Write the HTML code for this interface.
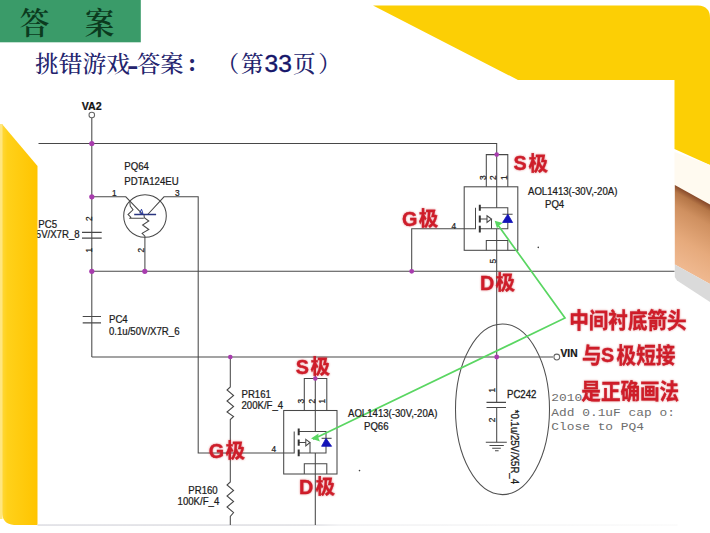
<!DOCTYPE html>
<html lang="zh">
<head>
<meta charset="utf-8">
<title>答案</title>
<style>
html,body{margin:0;padding:0;background:#fff;}
body{width:710px;height:533px;overflow:hidden;position:relative;}
svg{position:absolute;left:0;top:0;display:block;}
.sans{font-family:"Liberation Sans","Noto Sans CJK SC",sans-serif;}
.serif{font-family:"Liberation Serif","Noto Serif CJK SC",serif;}
.mono{font-family:"Liberation Mono",monospace;}
.lbl{font-family:"Liberation Sans","Noto Sans CJK SC",sans-serif;font-size:10.4px;fill:#1c1c1c;stroke:#1c1c1c;stroke-width:0.25;}
.red{font-family:"Liberation Sans","Noto Sans CJK SC",sans-serif;font-weight:700;fill:#d01f2a;stroke:#c01822;stroke-width:0.3;}
.w{stroke:#484848;stroke-width:1.05;fill:none;}
.j{fill:#a83cae;}
</style>
</head>
<body>
<svg width="710" height="533" viewBox="0 0 710 533">
<defs>
<linearGradient id="gy" x1="0" y1="0" x2="1" y2="0">
<stop offset="0" stop-color="#ffd83a"/><stop offset="0.15" stop-color="#ffd11a"/><stop offset="1" stop-color="#ffc400"/>
</linearGradient>
<linearGradient id="gw" gradientUnits="userSpaceOnUse" x1="692" y1="195" x2="652" y2="265">
<stop offset="0" stop-color="#8a4c2c"/><stop offset="0.07" stop-color="#b57647"/><stop offset="0.22" stop-color="#cf9060"/><stop offset="0.55" stop-color="#e6aa7c"/><stop offset="1" stop-color="#f4c09a"/>
</linearGradient>
<linearGradient id="gb" x1="0" y1="0" x2="1" y2="0"><stop offset="0" stop-color="#dcdce2"/><stop offset="0.43" stop-color="#dedee2"/><stop offset="0.47" stop-color="#f0f0f2"/><stop offset="1" stop-color="#fafafa"/></linearGradient>
<filter id="soft" x="-5%" y="-5%" width="110%" height="110%"><feGaussianBlur stdDeviation="0.35"/></filter>
<filter id="glow" x="-10%" y="-20%" width="120%" height="140%">
<feGaussianBlur in="SourceGraphic" stdDeviation="1.0" result="b"/>
<feComponentTransfer in="b" result="b2"><feFuncA type="linear" slope="0.45"/></feComponentTransfer>
<feMerge><feMergeNode in="b2"/><feMergeNode in="SourceGraphic"/></feMerge>
</filter>
<clipPath id="content"><rect x="37.5" y="80" width="637" height="445"/></clipPath>
</defs>
<rect width="710" height="533" fill="#fff"/>

<!-- top-right yellow shape -->
<path d="M373 5.5 L698 5.5 Q710 6 710 18 L710 165 L674.5 149 L674.5 80 L518 80 Z" fill="#fccf05"/>
<!-- pencil-like band on right -->
<path d="M674.5 152 L710 165 L710 205 L674.5 185 Z" fill="#fffaf0"/>
<path d="M674.8 185 L710 204.5 L710 284 L674.8 264.6 Z" fill="url(#gw)"/>
<path d="M674.8 264.6 L710 284 L710 302 L677 280.5 L674.8 277 Z" fill="#dadada"/>

<!-- left yellow shape -->
<path d="M2 124 L37.5 166 L37.5 525 L14 525 Q2 524 2 512 Z" fill="url(#gy)"/>
<rect x="0" y="124" width="2.5" height="395" fill="#ffe680"/>
<rect x="37.5" y="524.3" width="640" height="1.5" fill="url(#gb)"/>

<!-- header -->
<rect x="0" y="0" width="140.8" height="42.3" fill="#3a9b69"/>
<g class="serif" font-size="29.5" font-weight="600" fill="#0b3a1e">
<text transform="translate(19.8 34.2) scale(1 1.04)">答</text>
<text transform="translate(84.8 34.2) scale(1 1.04)">案</text>
</g>
<g class="serif" font-size="22.6" font-weight="500" fill="#24246e">
<text transform="translate(35 71.8) scale(1.05 1)">挑错游戏</text>
<text class="sans" transform="translate(127 72.8) scale(1.5 1)" font-weight="bold" font-size="23">-</text>
<text transform="translate(137 71.8) scale(1.03 1)">答案</text>
<text x="188" y="70.8" font-weight="700" font-size="25">:</text>
<text x="216.5" y="71.8">（</text>
<text x="241" y="71.8">第</text>
<text class="sans" x="264.6" y="72" font-size="24.6" font-weight="400" fill="#16166a" stroke="#16166a" stroke-width="0.4">33</text>
<text x="293" y="71.8">页</text>
<text x="318.3" y="71.8">）</text>
</g>

<g clip-path="url(#content)">
<!-- ================= schematic wires ================= -->
<g class="w">
<!-- VA2 -->
<circle cx="91.8" cy="115" r="2.8" stroke="#666"/>
<path d="M91.8 118 V357"/>
<path d="M38.5 143.5 H496.7 V207.8"/>
<path d="M496.7 228.8 V402.3"/>
<path d="M91.8 196.8 H125.8 L142 213.6"/>
<path d="M147.7 214.5 L164 196.8 H198.2 V452.9 H294.2 V431.5"/>
<circle cx="145" cy="216" r="21.3"/>
<!-- transistor resistors -->
<path d="M129.7 201.3 L130.3 206 L133 209.8 L128 214.5 L130.8 217.2 L130 218.2 H143.8"/>
<path d="M144 214.5 L144.3 217.6 L148.8 221 L142.6 225 L148.8 229.5 L142.1 233.4 L144.9 236.2 V271.3"/>
<!-- PC5 cap -->
<path d="M82 232.3 H101.7 M82 238.2 H101.7" stroke-width="1.2"/>
<!-- PC4 cap -->
<path d="M82.7 316.5 H101 M82.7 322.9 H101" stroke-width="1.2"/>
<!-- rails -->
<path d="M91.8 271.3 H675"/>
<path d="M91.8 357 H553"/>
<circle cx="556.8" cy="357" r="2.9" stroke="#666"/>
<!-- gate PQ4 -->
<path d="M411.7 271.3 V228.8 H475.5 V207.8"/>
<!-- PQ4 body -->
<rect x="464.2" y="186.8" width="53.6" height="63.5"/>
<path d="M486.3 186.8 V154.6 H507.8 V186.8"/>
<path d="M486.3 250.3 V240.5 H507.8 V250.3"/>
<path d="M479.8 207.8 H507.8 V228.8 H479.8"/>
<path d="M479.8 219 H487 M491.5 219 V228.8"/>
<path d="M487 215.8 L491.5 219 L487 222.4 Z"/>
<path d="M502.5 214.2 H512.6"/>
<!-- PQ66 body -->
<rect x="283.7" y="410.5" width="53.3" height="63.5"/>
<path d="M304.3 410.5 V378.5 H326.8 V410.5"/>
<path d="M304.3 474 V463.8 H326.8 V474"/>
<path d="M315.3 357 V431.5 M315.3 452.9 V525"/>
<path d="M298.7 431.5 H326 V452.9 H298.7"/>
<path d="M298.7 442.5 H305.8 M310 442.5 V452.9"/>
<path d="M305.8 439.3 L310 442.5 L305.8 445.8 Z"/>
<path d="M321.6 438.3 H331.6"/>
<!-- resistors -->
<path d="M230.3 357 V387 L227 390 L233.6 395.5 L227 401 L233.6 406.5 L227 412 L233.6 416.5 L230.3 419.5 V482 L227 485 L233.6 490.5 L227 496 L233.6 501.5 L227 507 L233.6 512.5 L230.3 516.5 V525"/>
<!-- PC242 -->
<path d="M496.7 407.5 V442.3"/>
<path d="M486.5 402.3 H506 M486.5 407.5 H506" stroke-width="1.2"/>
<path d="M485.8 442.3 H506.8 M489.5 445.4 H503.8 M492.2 448.2 H500.8 M495 450.8 H498.6"/>
<ellipse cx="502.5" cy="409.3" rx="47" ry="85.3" stroke="#505050"/>
</g>
<!-- base bar of BJT -->
<path d="M134.2 214.5 H156.1" stroke="#2a3580" stroke-width="1.5" fill="none"/>
<path d="M139.8 213.1 L141.5 209.2 L143 213.7 Z" fill="none" stroke="#2a3ca0" stroke-width="1"/>
<!-- channel thick segments -->
<g stroke="#333" stroke-width="2" fill="none">
<path d="M479.8 204.8 V210.8 M479.8 215.6 V222.5 M479.8 225.8 V232.6"/>
<path d="M298.7 428.5 V435.3 M298.7 439.4 V445.8 M298.7 449.6 V456.3"/>
</g>
<!-- diodes -->
<path d="M507.8 214.2 L512.6 222.5 H502.5 Z" fill="#1414b8" stroke="#1414b8" stroke-width="0.8"/>
<path d="M326 438.3 L331.6 446.3 H321.6 Z" fill="#1414b8" stroke="#1414b8" stroke-width="0.8"/>

<!-- junction dots -->
<g class="j">
<circle cx="91.8" cy="143.5" r="2.6"/><circle cx="91.8" cy="196.8" r="2.6"/>
<circle cx="91.8" cy="271.3" r="2.6"/><circle cx="144.8" cy="271.3" r="2.6"/>
<circle cx="230.3" cy="357" r="2.3"/><circle cx="315.3" cy="378.5" r="2.3"/>
<circle cx="496.7" cy="154.6" r="2.3"/><circle cx="411.7" cy="271.3" r="2.4"/>
<circle cx="496.7" cy="357" r="2.4"/>
</g>

<!-- green pointer lines -->
<g stroke="#5ad662" stroke-width="1.7" fill="none">
<path d="M496.5 223 L565 318 L313 439.3"/>
</g>
<path d="M494.7 220.7 L502.8 223 L499 225.5 L497 228.5 Z" fill="#5ad662"/>
<path d="M311 438.5 L318.5 433.6 L318.2 437.4 L320 441.5 Z" fill="#5ad662"/>

<!-- ================= labels ================= -->
<g class="lbl">
<text transform="translate(81.8 109.8) scale(0.97 1)" font-weight="bold" font-size="11" fill="#111">VA2</text>
<text transform="translate(124.3 169.5) scale(0.925 1)">PQ64</text>
<text transform="translate(124.3 185) scale(0.925 1)">PDTA124EU</text>
<text transform="translate(112 196) scale(0.925 1)" font-size="9">1</text>
<text transform="translate(175 196) scale(0.925 1)" font-size="9">3</text>
<text transform="translate(38.3 227.6) scale(0.925 1)">PC5</text>
<text transform="translate(35.8 238.3) scale(0.925 1)">5V/X7R_8</text>
<text transform="translate(91.5 221) rotate(-90) scale(0.925 1)" font-size="9">2</text>
<text transform="translate(91.5 252.5) rotate(-90) scale(0.925 1)" font-size="9">1</text>
<text transform="translate(144.3 252.5) rotate(-90) scale(0.925 1)" font-size="9">2</text>
<text transform="translate(109 323) scale(0.925 1)">PC4</text>
<text transform="translate(109 335.2) scale(0.925 1)">0.1u/50V/X7R_6</text>
<text transform="translate(241.5 398.3) scale(0.925 1)">PR161</text>
<text transform="translate(241.5 408.6) scale(0.925 1)">200K/F_4</text>
<text transform="translate(188.3 493.5) scale(0.925 1)">PR160</text>
<text transform="translate(177.6 505) scale(0.925 1)">100K/F_4</text>
<text transform="translate(271.5 452) scale(0.925 1)" font-size="9">4</text>
<text transform="translate(451.5 229) scale(0.925 1)" font-size="9">4</text>
<text transform="translate(486 180) rotate(-90) scale(0.925 1)" font-size="9">3</text>
<text transform="translate(496 180) rotate(-90) scale(0.925 1)" font-size="9">2</text>
<text transform="translate(506.5 180) rotate(-90) scale(0.925 1)" font-size="9">1</text>
<text transform="translate(496 263.5) rotate(-90) scale(0.925 1)" font-size="9">5</text>
<text transform="translate(304 403.5) rotate(-90) scale(0.925 1)" font-size="9">3</text>
<text transform="translate(314.5 403.5) rotate(-90) scale(0.925 1)" font-size="9">2</text>
<text transform="translate(325 403.5) rotate(-90) scale(0.925 1)" font-size="9">1</text>
<text transform="translate(528 194.6) scale(0.925 1)">AOL1413(-30V,-20A)</text>
<text transform="translate(545 207.8) scale(0.925 1)">PQ4</text>
<text transform="translate(348 416.8) scale(0.925 1)">AOL1413(-30V,-20A)</text>
<text transform="translate(364 429.8) scale(0.925 1)">PQ66</text>
<text transform="translate(507 397.8) scale(0.925 1)" stroke-width="0.3">PC242</text>
<text transform="translate(560.5 357.4) scale(0.93 1)" font-weight="bold" font-size="11" fill="#111">VIN</text>
<text transform="translate(511.3 409.8) rotate(90) scale(0.925 1)" stroke-width="0.3">*0.1u/25V/X5R_4</text>
<text transform="translate(495.3 392.5) rotate(-90) scale(0.925 1)" font-size="9">1</text>
<text transform="translate(495.3 422.3) rotate(-90) scale(0.925 1)" font-size="9">2</text>
</g>
<circle cx="538.3" cy="247.4" r="0.8" fill="#444"/>
<circle cx="359.5" cy="470.6" r="0.8" fill="#444"/>

<!-- courier note -->
<g class="mono" font-size="11.6" fill="#6e6e6e">
<text transform="translate(551.3 400.6) scale(1.11 1)">2010</text>
<text transform="translate(551.3 415.6) scale(1.11 1)">Add 0.1uF cap o:</text>
<text transform="translate(551.3 430.3) scale(1.11 1)">Close to PQ4</text>
</g>
</g>

<!-- red annotations -->
<g class="red" filter="url(#glow)">
<text transform="translate(513.4 170.2) scale(1 1.0)" font-size="19.8">S</text><text transform="translate(528.4 170.8) scale(1 1.02)" font-size="19.6">极</text>
<text transform="translate(401.9 225.5) scale(1 1.0)" font-size="19.8">G</text><text transform="translate(418.7 226.1) scale(1 1.02)" font-size="19.6">极</text>
<text transform="translate(480.0 289.5) scale(1 1.0)" font-size="19.8">D</text><text transform="translate(495.6 290.1) scale(1 1.02)" font-size="19.6">极</text>
<text transform="translate(295.8 373.7) scale(1 1.0)" font-size="19.8">S</text><text transform="translate(310.6 374.3) scale(1 1.02)" font-size="19.6">极</text>
<text transform="translate(208.7 457.8) scale(1 1.0)" font-size="19.8">G</text><text transform="translate(225.6 458.4) scale(1 1.02)" font-size="19.6">极</text>
<text transform="translate(299.1 493.7) scale(1 1.0)" font-size="19.8">D</text><text transform="translate(315.6 494.3) scale(1 1.02)" font-size="19.6">极</text>
<text transform="translate(569.2 327.8) scale(1 1.08)" font-size="19.6">中间衬底箭头</text>
<text transform="translate(582 362.8) scale(1 1.08)" font-size="19.6">与</text><text transform="translate(601 362.2) scale(1 1.0)" font-size="19.8">S</text><text transform="translate(616.6 362.8) scale(1 1.08)" font-size="19.6">极短接</text>
<text transform="translate(581.3 399.2) scale(1 1.08)" font-size="19.6">是正确画法</text>
</g>
</svg>
</body>
</html>
